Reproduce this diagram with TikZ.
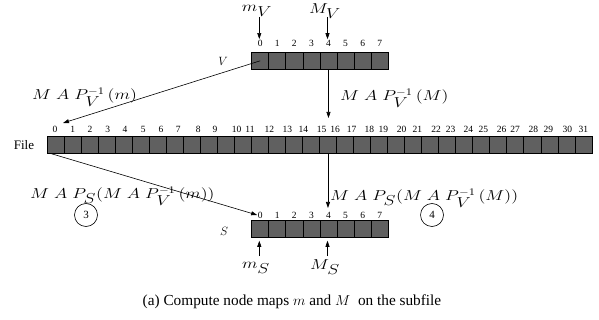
\documentclass[tikz,border=0pt]{standalone}
\usepackage{fontspec}
\setmainfont{Liberation Serif}
\usetikzlibrary{arrows.meta,calc}
\definecolor{cellgray}{RGB}{96,96,96}
\newcommand\MAPt{M\mkern5mu A\mkern5mu P}
\newcommand\widemath[1]{\scalebox{1.25}[1]{$#1$}}
\begin{document}
\begin{tikzpicture}[x=1pt,y=-1pt,
  cell/.style={draw=black, fill=cellgray, minimum width=17.05pt, minimum height=16.8pt, inner sep=0pt, line width=0.7pt},
  num/.style={font=\fontsize{9.5}{10}\selectfont, inner sep=0.5pt},
  arr/.style={-{Triangle[length=6pt,width=4pt]}, line width=0.6pt},
  lab/.style={font=\fontsize{13}{14}\selectfont, inner sep=0pt},
  mklab/.style={font=\fontsize{14}{15}\selectfont, inner sep=0pt},
  mlab/.style={font=\fontsize{14.5}{16}\selectfont, inner sep=0pt, anchor=base west},
  numcirc/.style={circle, draw, line width=0.6pt, minimum size=23pt, inner sep=0pt, font=\fontsize{11}{12}\selectfont}]
\useasboundingbox (0,0) rectangle (599,320);
% V array
\foreach \i in {0,...,7} {
  \node[cell] (V\i) at ({260.2+17.07*\i},60.8) {};
  \node[num] (Vn\i) at ({260.2+17.07*\i},43) {\i};
}
% File array
\foreach \i in {0,...,31} {
  \node[cell] (F\i) at ({55.5+17.03*\i},145) {};
}
\foreach \x [count=\c from 0] in {55,72.7,90,107.7,125,143.3,161,178.3,198.3,215,236.7,250,269.3,287.3,303.3,321.7,335,351.7,369.3,383.3,401.7,417.3,436,450.7,468.3,483.3,501.7,515,533.3,548.3,567.3,583.3} {
  \node[num] (Fn\c) at (\x,129) {\c};
}
% S array
\foreach \i in {0,...,7} {
  \node[cell] (S\i) at ({260.2+17.07*\i},229) {};
  \node[num] (Sn\i) at ({260.2+17.07*\i},215) {\i};
}
% row names
\node[lab] (Vname) at (223,61) {$V$};
\node[lab] (Sname) at (224,231) {$S$};
\node[font=\fontsize{13}{14}\selectfont, inner sep=0pt] (Fname) at (24,145) {File};
% top markers
\node[mklab] (mV) at (257,11) {\widemath{m_{\textstyle V}}};
\node[mklab] (MV) at (325,11) {\widemath{M_{\textstyle V}}};
\coordinate (mVa) at (259.3,17);
\coordinate (MVa) at (327.5,17);
\draw[arr] (mVa) -- (mVa |- Vn0.north);
\draw[arr] (MVa) -- (MVa |- Vn4.north);
% bottom markers
\node[mklab] (mS) at (256,268) {\widemath{m_{\textstyle S}}};
\node[mklab] (MS) at (325,267) {\widemath{M_{\textstyle S}}};
\coordinate (mSa) at (259.3,256);
\coordinate (MSa) at (327.5,256);
\draw[arr] (mSa) -- ($(mSa |- S0.south)+(0,3)$);
\draw[arr] (MSa) -- ($(MSa |- S4.south)+(0,3)$);
% mapping arrows
\coordinate (t1) at (63,123);
\draw[arr] (V0.center) -- (t1);
\coordinate (s2) at (50,153.3);
\draw[arr] (s2) -- (Sn0.west);
\coordinate (t3) at (0,118);
\draw[arr] (V4.south) -- (V4.south |- t3);
\coordinate (t4) at (0,208);
\draw[arr] (F16.south) -- (F16.south |- t4);
% map labels
\node[mlab] (L1) at (32,100) {\widemath{\MAPt_{\textstyle V}^{-1}\,(m)}};
\node[mlab] (L2) at (340,101) {\widemath{\MAPt_{\textstyle V}^{-1}\,(M)}};
\node[mlab] (L3) at (30,199) {\widemath{\MAPt_{\textstyle S}(\MAPt_{\textstyle V}^{-1}\,(m))}};
\node[mlab] (L4) at (330,201) {\widemath{\MAPt_{\textstyle S}(\MAPt_{\textstyle V}^{-1}\,(M))}};
% step circles
\node[numcirc] (c3) at (86,215) {3};
\node[numcirc] (c4) at (432,215) {4};
% caption
\node[font=\fontsize{15.3}{18}\selectfont, inner sep=0pt, anchor=base] (cap) at (292,305) {(a) Compute node maps $m$ and $M$\ \ on the subfile};
\end{tikzpicture}
\end{document}
